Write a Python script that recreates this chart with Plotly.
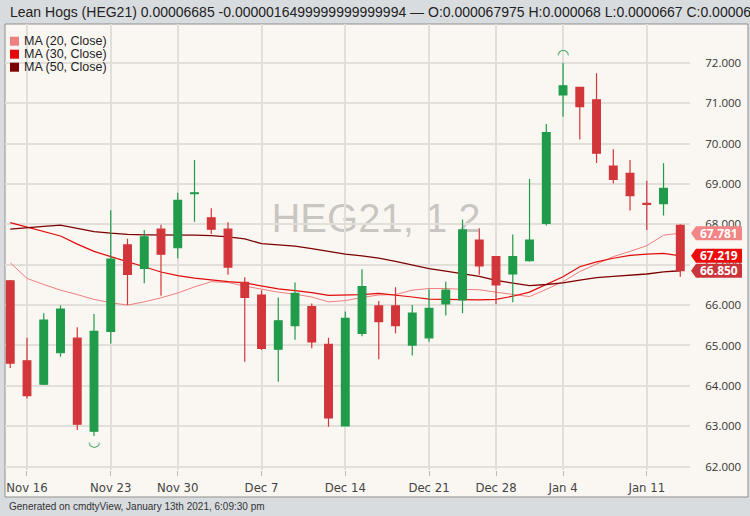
import plotly.graph_objects as go

# ---------------- data ----------------
dates = [
    "2020-11-13",
    "2020-11-16", "2020-11-17", "2020-11-18", "2020-11-19", "2020-11-20",
    "2020-11-23", "2020-11-24", "2020-11-25", "2020-11-27",
    "2020-11-30", "2020-12-01", "2020-12-02", "2020-12-03", "2020-12-04",
    "2020-12-07", "2020-12-08", "2020-12-09", "2020-12-10", "2020-12-11",
    "2020-12-14", "2020-12-15", "2020-12-16", "2020-12-17", "2020-12-18",
    "2020-12-21", "2020-12-22", "2020-12-23", "2020-12-24",
    "2020-12-28", "2020-12-29", "2020-12-30", "2020-12-31",
    "2021-01-04", "2021-01-05", "2021-01-06", "2021-01-07", "2021-01-08",
    "2021-01-11", "2021-01-12", "2021-01-13",
]
opens = [66.60, 64.62, 64.04, 64.82, 65.18, 62.88, 65.35, 67.49, 66.91, 67.88,
         67.42, 68.76, 68.16, 67.88, 66.56, 66.25, 64.91, 65.49, 65.96, 65.03,
         63.01, 65.30, 65.98, 65.98, 65.01, 65.19, 66.03, 66.13, 67.61,
         67.20, 66.77, 67.10, 68.02, 71.20, 71.39, 71.08, 69.44, 69.26,
         68.52, 68.51, 67.975]
highs = [66.62, 65.19, 65.80, 65.99, 65.45, 65.78, 68.35, 67.64, 67.86, 67.99,
         68.78, 69.59, 68.40, 68.05, 66.69, 66.37, 66.19, 66.56, 66.04, 65.19,
         65.84, 66.89, 66.10, 66.44, 66.00, 66.39, 66.58, 68.12, 67.90,
         67.21, 67.75, 69.12, 70.48, 72.00, 71.40, 71.74, 69.86, 69.59,
         69.08, 69.51, 68.00]
lows = [64.44, 63.69, 64.02, 64.72, 62.91, 62.76, 65.05, 66.00, 66.54, 66.23,
        67.16, 68.06, 67.76, 66.75, 64.60, 64.89, 64.10, 65.14, 64.93, 62.99,
        63.00, 65.23, 64.66, 65.30, 64.75, 65.09, 65.74, 65.80, 66.75,
        66.02, 66.07, 67.07, 67.97, 70.66, 70.10, 69.52, 69.01, 68.34,
        67.86, 68.22, 66.70]
closes = [64.56, 63.76, 65.63, 65.90, 63.05, 65.35, 67.14, 66.76, 67.69, 67.26,
          68.59, 68.78, 67.88, 66.94, 66.19, 64.93, 65.61, 66.29, 65.09, 63.21,
          65.67, 66.46, 65.59, 65.49, 65.80, 65.92, 66.37, 67.86, 66.97,
          66.50, 67.20, 67.61, 70.27, 71.43, 70.91, 69.76, 69.11, 68.71,
          68.49, 68.89, 66.85]
ma20 = [67.05, 66.66, 66.51, 66.37, 66.26, 66.14, 66.06, 66.00, 66.08, 66.18,
        66.30, 66.45, 66.58, 66.56, 66.47, 66.39, 66.32, 66.27, 66.20, 66.08,
        66.11, 66.19, 66.25, 66.26, 66.37, 66.41, 66.41, 66.39, 66.38,
        66.32, 66.26, 66.21, 66.39, 66.58, 66.83, 67.02, 67.20, 67.33,
        67.47, 67.73, 67.781]
ma30 = [68.04, 67.93, 67.82, 67.71, 67.51, 67.33, 67.20, 67.08, 66.95, 66.82,
        66.73, 66.67, 66.62, 66.58, 66.55, 66.47, 66.40, 66.36, 66.31, 66.24,
        66.25, 66.26, 66.29, 66.25, 66.20, 66.15, 66.14, 66.13, 66.13,
        66.14, 66.22, 66.32, 66.50, 66.70, 66.95, 67.07, 67.16, 67.23,
        67.26, 67.28, 67.219]
ma50 = [67.88, 67.92, 67.95, 67.98, 67.90, 67.82, 67.78, 67.75, 67.74, 67.74,
        67.74, 67.73, 67.72, 67.69, 67.64, 67.52, 67.49, 67.46, 67.40, 67.33,
        67.26, 67.22, 67.16, 67.08, 66.99, 66.90, 66.84, 66.78, 66.71,
        66.61, 66.55, 66.48, 66.51, 66.55, 66.62, 66.68, 66.71, 66.74,
        66.77, 66.82, 66.85]

tick_dates = ["2020-11-16", "2020-11-23", "2020-11-30", "2020-12-07", "2020-12-14",
              "2020-12-21", "2020-12-28", "2021-01-04", "2021-01-11"]
tick_labels = ["Nov 16", "Nov 23", "Nov 30", "Dec 7", "Dec 14",
               "Dec 21", "Dec 28", "Jan 4", "Jan 11"]
y_ticks = [62, 63, 64, 65, 66, 67, 68, 69, 70, 71, 72]

ma_names = ["MA (20, Close)", "MA (30, Close)", "MA (50, Close)"]
header_text = ("Lean Hogs (HEG21) 0.00006685 -0.0000016499999999999994 \u2014 "
               "O:0.000067975 H:0.000068 L:0.0000667 C:0.00006685")
footer_text = "Generated on cmdtyView, January 13th 2021, 6:09:30 pm"
watermark_text = "HEG21, 1 2"

# ---------------- styles ----------------
GREEN = "#1f9b4a"
RED = "#d2363a"
MA_COLORS = ["#f07f7f", "#e20a0a", "#7d0000"]
TAG_COLORS = ["#f28585", "#ee0b0b", "#c9353b"]
CREAM = "#faf7f2"
GREY_BG = "#d9dcdf"
GRID = "#e2dfdb"

W, H = 750, 516
ML, MR, MT, MB = 5, 60, 24, 46
PW, PH = W - ML - MR, H - MT - MB

fig = go.Figure()

ma_series = [ma20, ma30, ma50]
ma_widths = [1.0, 1.2, 1.3]
for series, col, wd, nm in zip(ma_series, MA_COLORS, ma_widths, ma_names):
    fig.add_trace(go.Scatter(x=dates, y=series, mode="lines", name=nm,
                             line=dict(color=col, width=wd), hoverinfo="skip",
                             zorder=0))

fig.add_trace(go.Candlestick(
    x=dates, open=opens, high=highs, low=lows, close=closes,
    increasing=dict(line=dict(color=GREEN, width=1.2), fillcolor=GREEN),
    decreasing=dict(line=dict(color=RED, width=1.2), fillcolor=RED),
    whiskerwidth=0, showlegend=False, zorder=1,
))

# period high / low markers
i_lo = lows.index(min(lows))
i_hi = highs.index(max(highs))
fig.add_trace(go.Scatter(x=[dates[i_lo]], y=[lows[i_lo]], mode="text", text=["\u25E1"],
                         textposition="bottom center",
                         textfont=dict(color=GREEN, size=14, family="DejaVu Sans"),
                         hoverinfo="skip", zorder=2, cliponaxis=False))
fig.add_trace(go.Scatter(x=[dates[i_hi]], y=[highs[i_hi]], mode="text", text=["\u25E0"],
                         textposition="top center",
                         textfont=dict(color=GREEN, size=14, family="DejaVu Sans"),
                         hoverinfo="skip", zorder=2, cliponaxis=False))

shapes = []
annotations = []

# chart frame
shapes.append(dict(type="rect", xref="paper", yref="paper", layer="below",
                   x0=0, x1=(748 - ML) / PW, y0=-(497 - (MT + PH)) / PH, y1=1,
                   fillcolor=CREAM, line=dict(color="#8f8f8f", width=1)))

# watermark (drawn under the traces)
wx, wy = 376, 214
shapes.append(dict(type="rect", xref="paper", yref="paper", layer="below",
                   x0=(wx - ML - 120) / PW, x1=(wx - ML + 120) / PW,
                   y0=(MT + PH - wy - 30) / PH, y1=(MT + PH - wy + 30) / PH,
                   line=dict(width=0), fillcolor="rgba(0,0,0,0)",
                   label=dict(text=watermark_text, textposition="middle center",
                              font=dict(size=40, color="rgba(120,118,115,0.38)",
                                        family="Liberation Sans, Arial, sans-serif"))))

# legend
for k, (nm, col) in enumerate(zip(ma_names, MA_COLORS)):
    cy = 41.2 + 13 * k - MT
    shapes.append(dict(type="rect", xref="paper", yref="paper",
                       xsizemode="pixel", ysizemode="pixel", xanchor=0, yanchor=1,
                       x0=5, x1=14, y0=-(cy - 4.5), y1=-(cy + 4.5),
                       fillcolor=col, line=dict(width=0), layer="above"))
    annotations.append(dict(xref="paper", yref="paper", x=0, y=1, xshift=17, yshift=-cy,
                            xanchor="left", yanchor="middle", showarrow=False, text=nm,
                            font=dict(size=12.5, color="#222",
                                      family="Liberation Sans, Arial, sans-serif")))

# last value tags on the price axis
tag_values = [ma20[-1], ma30[-1], closes[-1]]
for val, col in zip(tag_values, TAG_COLORS):
    shapes.append(dict(type="path", xref="paper", yref="y",
                       xsizemode="pixel", ysizemode="pixel", xanchor=1, yanchor=val,
                       path="M 1,0 L 6,7 L 52,7 L 52,-7 L 6,-7 Z",
                       fillcolor=col, line=dict(width=0), layer="above"))
    annotations.append(dict(xref="paper", yref="y", x=1, y=val, xshift=29,
                            xanchor="center", yanchor="middle", showarrow=False,
                            text=f"{val:.3f}",
                            font=dict(size=12, color="white",
                                      family="Open Sans, Noto Sans, sans-serif", weight="bold")))

# header & footer
annotations.append(dict(xref="paper", yref="paper", x=0, y=1, xshift=3, yshift=12,
                        xanchor="left", yanchor="middle", showarrow=False, text=header_text,
                        font=dict(size=14, color="#222",
                                  family="Liberation Sans, Arial, sans-serif")))
annotations.append(dict(xref="paper", yref="paper", x=0, y=0, xshift=2, yshift=-36,
                        xanchor="left", yanchor="middle", showarrow=False, text=footer_text,
                        font=dict(size=10, color="#333",
                                  family="Liberation Sans, Arial, sans-serif")))

n = len(dates)
fig.update_layout(
    width=W, height=H,
    margin=dict(l=ML, r=MR, t=MT, b=MB, pad=0),
    paper_bgcolor=GREY_BG, plot_bgcolor=CREAM,
    showlegend=False,
    boxgap=0.343,
    shapes=shapes, annotations=annotations,
    xaxis=dict(type="category", categoryorder="array", categoryarray=dates,
               range=[-0.313, n - 1 + 0.58],
               tickmode="array", tickvals=tick_dates, ticktext=tick_labels,
               showgrid=True, gridcolor=GRID, gridwidth=1.5,
               ticks="outside", ticklen=5, tickcolor="#bbb",
               showline=True, linecolor="#d8d5d1", linewidth=1,
               tickfont=dict(size=13, color="#444",
                             family="Liberation Sans Narrow, Arial Narrow, DejaVu Sans Condensed, sans-serif"),
               rangeslider=dict(visible=False), fixedrange=True),
    yaxis=dict(side="right", range=[61.918, 72.958],
               tickmode="array", tickvals=y_ticks,
               ticktext=[f"{v:.3f}" for v in y_ticks],
               showgrid=True, gridcolor=GRID, gridwidth=1.5,
               ticks="", ticklabelstandoff=12,
               showline=True, linecolor="#d8d5d1", linewidth=1,
               tickfont=dict(size=11.5, color="#333",
                             family="Open Sans, Noto Sans, sans-serif"),
               zeroline=False, fixedrange=True),
)

fig.write_html("out.html", config={"displayModeBar": False},
               post_script="document.body.style.margin='0';document.body.style.overflow='hidden';")
